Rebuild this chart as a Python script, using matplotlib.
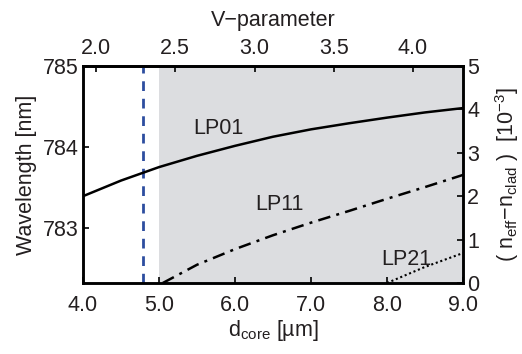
import matplotlib
matplotlib.use("Agg")
import matplotlib.pyplot as plt

# ----- data -----
d_lp01 = [4.0, 4.5, 5.0, 5.5, 6.0, 6.5, 7.0, 7.5, 8.0, 8.5, 9.0]
n_lp01 = [2.00, 2.36, 2.67, 2.93, 3.16, 3.37, 3.54, 3.68, 3.81, 3.93, 4.03]

d_lp11 = [5.05, 5.5, 6.0, 6.5, 7.0, 7.5, 8.0, 8.5, 9.0]
n_lp11 = [0.0, 0.42, 0.78, 1.10, 1.39, 1.66, 1.94, 2.21, 2.49]

d_lp21 = [8.0, 8.5, 9.0]
n_lp21 = [0.0, 0.37, 0.69]

d_marker = 4.79          # blue dashed line
d_shade = (5.0, 9.0)     # grey multimode region
v_per_d = 0.4795         # V-parameter = v_per_d * d_core

x_ticks = [4.0, 5.0, 6.0, 7.0, 8.0, 9.0]
v_ticks = [2.0, 2.5, 3.0, 3.5, 4.0]
wl_ticks = [783, 784, 785]
n_ticks = [0, 1, 2, 3, 4, 5]

labels = ["LP01", "LP11", "LP21"]
label_pos = [(5.78, 3.57), (6.59, 1.80), (8.25, 0.53)]

# ----- styl -----
plt.rcParams["font.family"] = ["Liberation Sans", "DejaVu Sans"]
plt.rcParams["mathtext.fontset"] = "custom"
plt.rcParams["mathtext.rm"] = "Liberation Sans"
plt.rcParams["mathtext.it"] = "Liberation Sans"
fs = 15.5
txt = "#231f20"

fig = plt.figure(figsize=(5.22, 3.54), dpi=100)
ax = fig.add_axes([0.159, 0.2006, 0.728, 0.613])

ax.axvspan(*d_shade, color="#dcdde0", lw=0, zorder=0)
ax.axvline(d_marker, color="#2d4d9f", lw=2, dashes=(3.5, 2.8), zorder=1)

ax.set_xlim(4.0, 9.0)
ax.set_ylim(782.32, 785)
ax.set_xticks(x_ticks)
ax.set_xticklabels([f"{v:.1f}" for v in x_ticks])
ax.set_yticks(wl_ticks)
ax.set_xlabel(r"d$_{\rm core}$ [µm]", fontsize=fs, color=txt, labelpad=1)
ax.set_ylabel("Wavelength [nm]", fontsize=fs, color=txt, labelpad=4)

# druha osa y
ax2 = ax.twinx()
ax2.set_ylim(0, 5)
ax2.set_yticks(n_ticks)
ax2.plot(d_lp01, n_lp01, color="black", lw=1.8, solid_capstyle="butt")
ax2.plot(d_lp11, n_lp11, color="black", lw=1.8, dashes=(5, 2.5, 1.2, 2.5))
ax2.plot(d_lp21, n_lp21, color="black", lw=1.5, dashes=(1, 1.3))
ax2.set_ylabel(r"( n$_{\rm eff}$$-$n$_{\rm clad}$ )  [10$^{-3}$]",
               fontsize=fs, color=txt, labelpad=10)

for lab, (x, y) in zip(labels, label_pos):
    ax2.text(x, y, lab, fontsize=fs, color=txt, ha="center", va="center")

# horni osa
top = ax.secondary_xaxis("top", functions=(lambda d: d * v_per_d,
                                           lambda v: v / v_per_d))
top.set_xticks(v_ticks)
top.set_xticklabels([f"{v:.1f}" for v in v_ticks])
top.set_xlabel("V\u2212parameter", fontsize=fs, color=txt, labelpad=9)

for a in (ax, ax2, top):
    a.tick_params(direction="in", length=4, width=1.2, labelsize=fs,
                  labelcolor=txt, pad=3)
ax.tick_params(axis="x", pad=9)
top.tick_params(axis="x", pad=5)
for a in (ax, ax2):
    for s in a.spines.values():
        s.set_linewidth(1.8)
top.spines["top"].set_linewidth(1.8)

fig.savefig("out.png", dpi=100)
